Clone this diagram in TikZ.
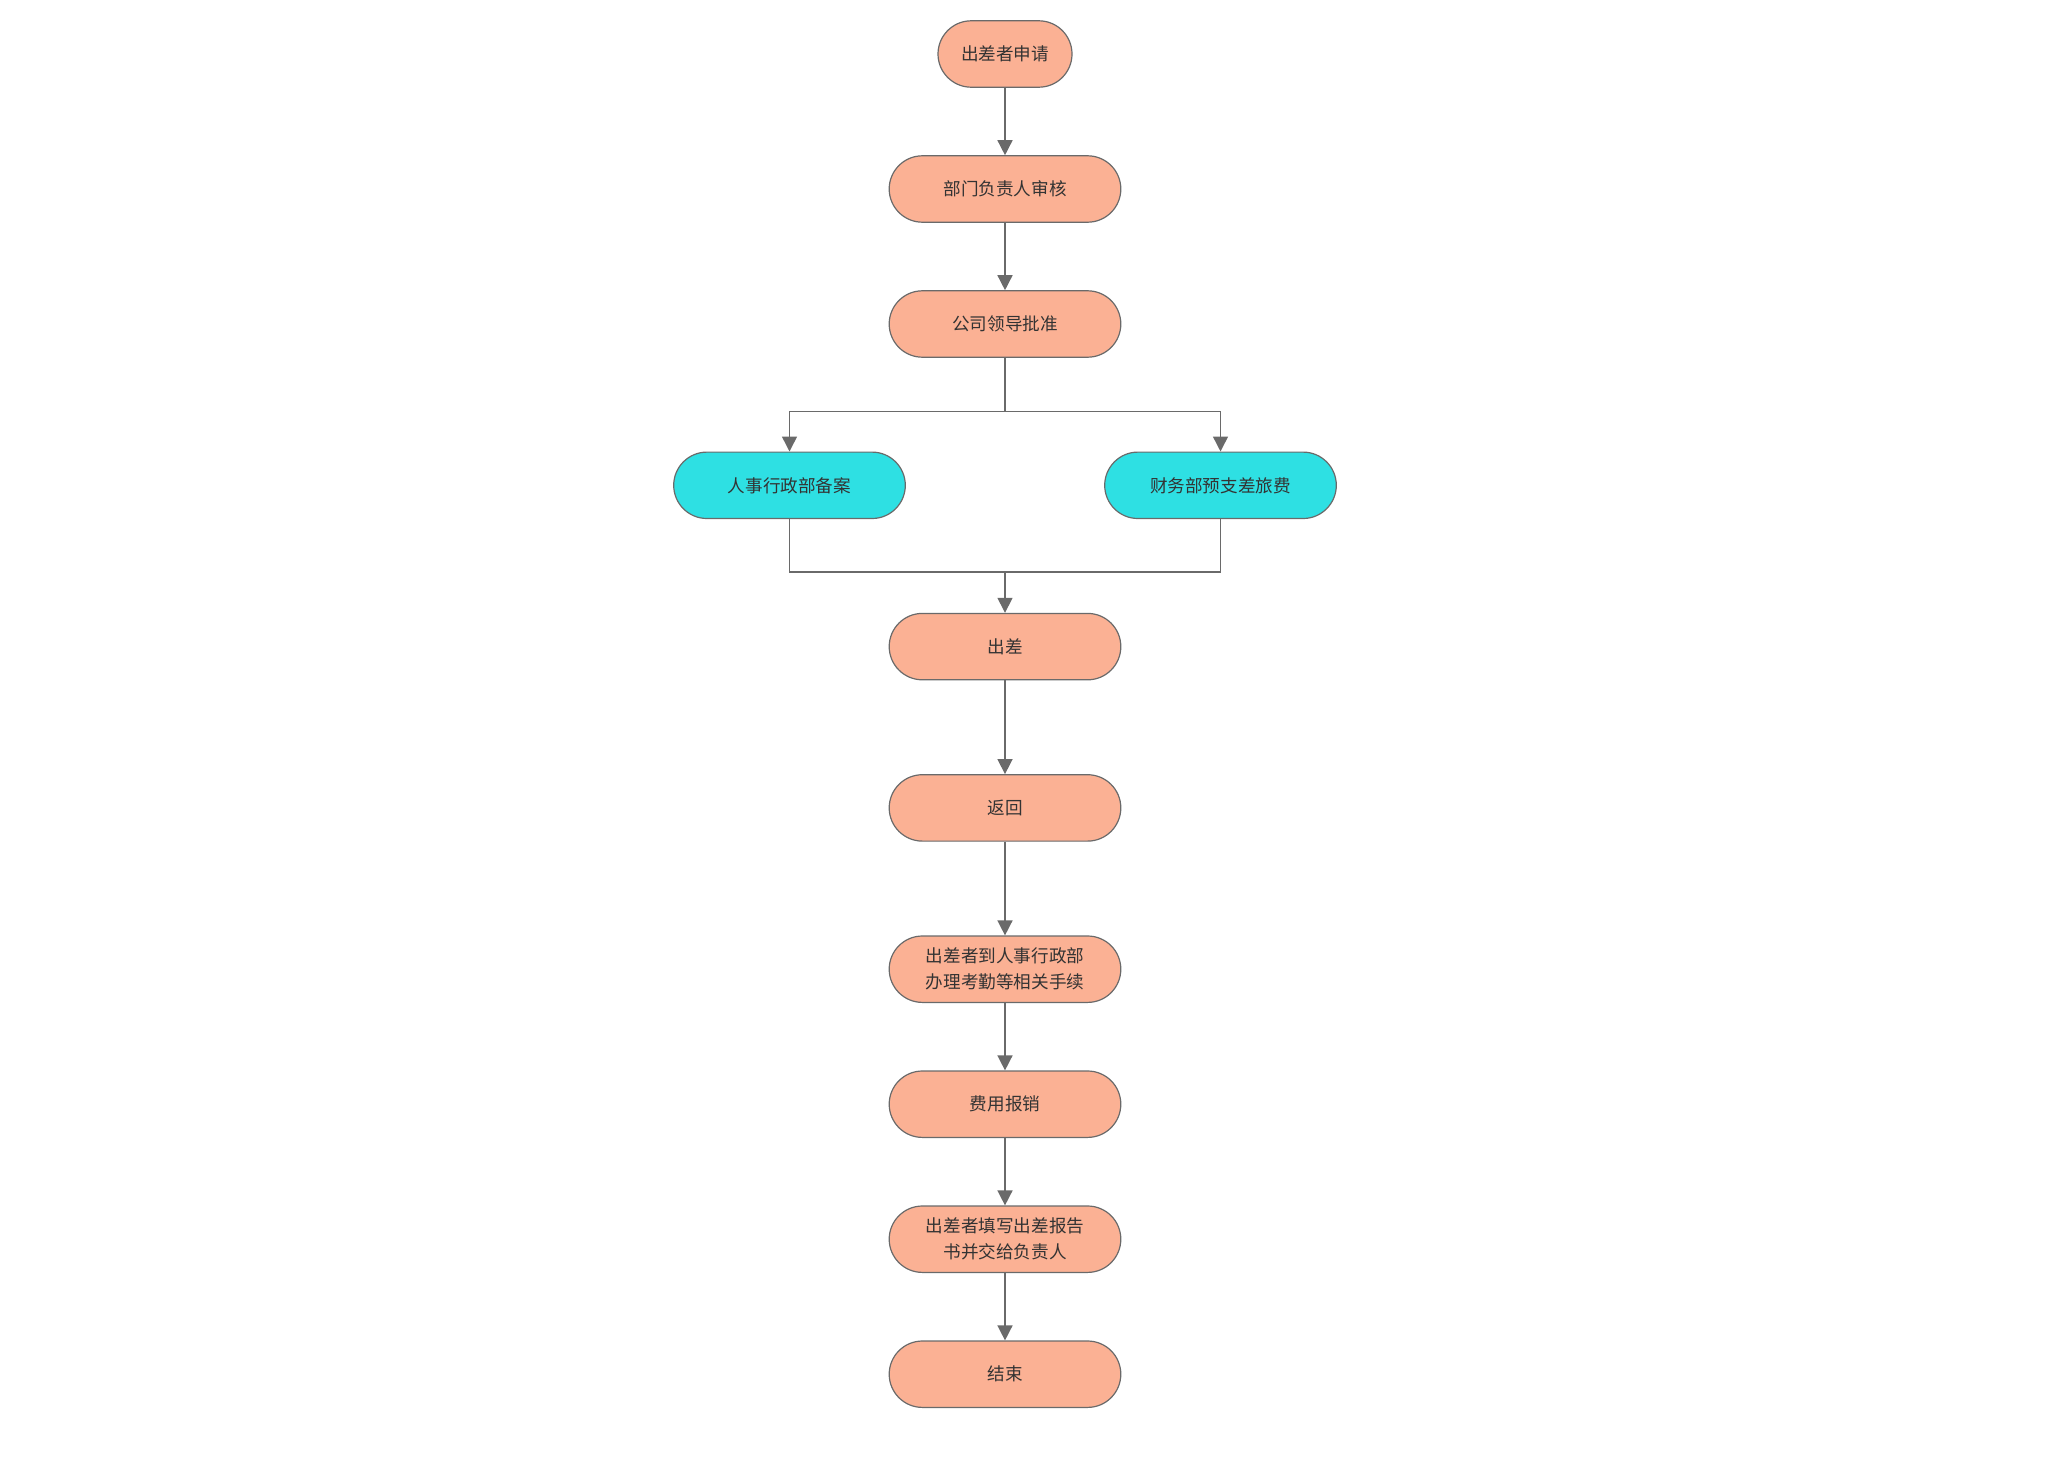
\documentclass[tikz,border=0pt]{standalone}
\usepackage{fontspec}
\newfontfamily\cjk{Noto Sans CJK SC}
\usepackage{tikz}
\usetikzlibrary{arrows.meta,positioning}
\definecolor{salmon}{HTML}{FBB194}
\definecolor{aqua}{HTML}{2EE0E3}
\definecolor{edge}{HTML}{6A6A6A}
\definecolor{ink}{HTML}{333333}

\begin{document}
\begin{tikzpicture}[
    node distance=33.7pt,
    proc/.style={rectangle, draw=edge, line width=0.6pt, fill=salmon, rounded corners=16.6pt, minimum width=115.8pt, minimum height=33.2pt, inner sep=0pt, align=center, text=ink, font=\cjk\fontsize{8.8}{13}\selectfont},
    dept/.style={proc, fill=aqua},
    arr/.style={-{Triangle[length=7.5pt, width=7.5pt]}, draw=edge, line width=0.75pt}
]
  \useasboundingbox (0,0) rectangle (1028pt,-736pt);

  \node[proc, minimum width=67pt] (apply) at (502.5pt,-27pt) {出差者申请};
  \node[proc, below=of apply] (head) {部门负责人审核};
  \node[proc, below=of head]  (lead) {公司领导批准};
  \node[dept, below=46.85pt of lead, xshift=-107.75pt] (hr)  {人事行政部备案};
  \node[dept, below=46.85pt of lead, xshift=107.75pt]  (fin) {财务部预支差旅费};
  \node[proc, below=46.85pt of hr, xshift=107.75pt] (trip) {出差};
  \node[proc, below=46.85pt of trip]  (back)   {返回};
  \node[proc, below=46.85pt of back]  (formal) {出差者到人事行政部\\办理考勤等相关手续};
  \node[proc, below=of formal] (claim)  {费用报销};
  \node[proc, below=of claim]  (report) {出差者填写出差报告\\书并交给负责人};
  \node[proc, below=of report] (done)   {结束};

  \coordinate[below=26.8pt of lead.south] (split);
  \coordinate[below=26.5pt of hr.south]   (join);

  \draw[arr] (apply) -- (head);
  \draw[arr] (head) -- (lead);
  \draw[edge, line width=0.75pt] (lead.south) -- (split);
  \draw[arr] (split) -| (hr.north);
  \draw[arr] (split) -| (fin.north);
  \draw[edge, line width=0.75pt] (hr.south) |- (join) -| (fin.south);
  \draw[arr] (join -| trip.north) -- (trip.north);
  \draw[arr] (trip) -- (back);
  \draw[arr] (back) -- (formal);
  \draw[arr] (formal) -- (claim);
  \draw[arr] (claim) -- (report);
  \draw[arr] (report) -- (done);
\end{tikzpicture}
\end{document}
